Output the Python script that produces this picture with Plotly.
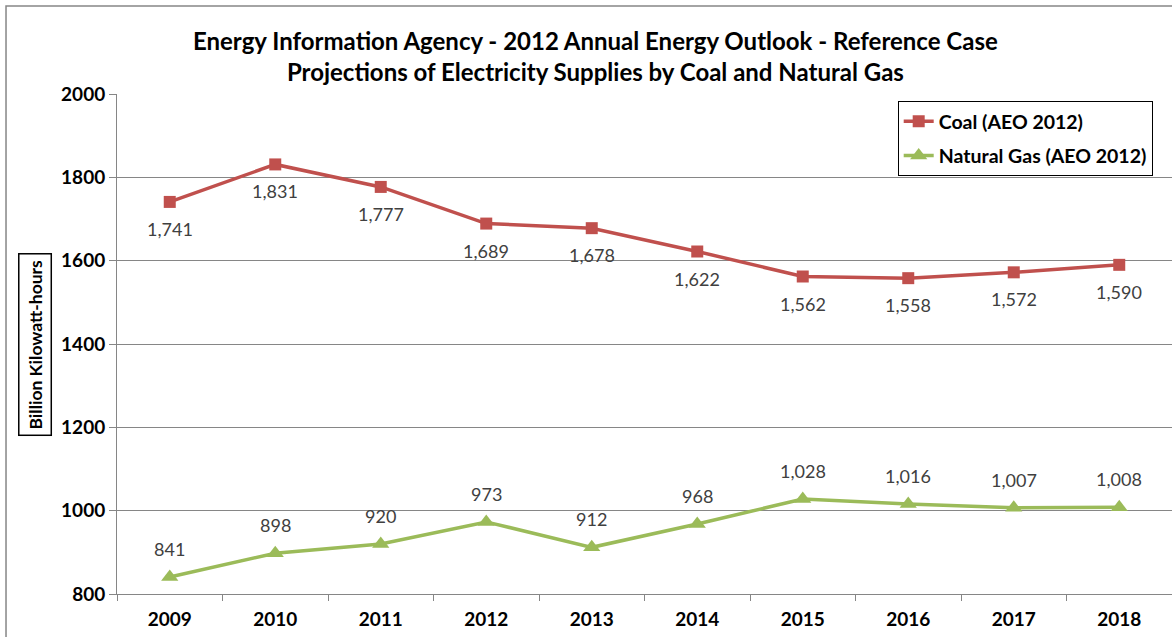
"""
EIA AEO 2012 - proyecciones de electricidad por carbón y gas natural
"""
import plotly.graph_objects as go

years = ['2009', '2010', '2011', '2012', '2013', '2014', '2015', '2016', '2017', '2018']
coal = [1741, 1831, 1777, 1689, 1678, 1622, 1562, 1558, 1572, 1590]
gas = [841, 898, 920, 973, 912, 968, 1028, 1016, 1007, 1008]

FONT = 'Lato'
COAL_COLOR = '#C0504D'
GAS_COLOR = '#9BBB59'

fig = go.Figure()

fig.add_trace(go.Scatter(
    x=years, y=coal, name='Coal (AEO 2012)', legendgroup='coal',
    mode='lines+markers',
    line=dict(color=COAL_COLOR, width=3.5),
    marker=dict(symbol='square', size=12, color=COAL_COLOR),
))
fig.add_trace(go.Scatter(
    x=years, y=gas, name='Natural Gas (AEO 2012)', legendgroup='gas',
    mode='lines+markers',
    line=dict(color=GAS_COLOR, width=3.5),
    marker=dict(symbol='triangle-up', size=15, color=GAS_COLOR),
))

# Etiquetas de datos (eje categórico: posición por índice)
for i, v in enumerate(coal):
    fig.add_annotation(x=i, y=v, text=f"{v:,}", showarrow=False, yshift=-27,
                       font=dict(family=FONT, size=18, color='#404040'))
for i, v in enumerate(gas):
    fig.add_annotation(x=i, y=v, text=f"{v:,}", showarrow=False, yshift=28,
                       font=dict(family=FONT, size=18, color='#404040'))

# Título del eje Y en caja
fig.add_annotation(
    xref='paper', yref='paper', x=-0.0777, y=0.498,
    xanchor='center', yanchor='middle',
    text='<b>Billion Kilowatt-hours</b>', textangle=-90, showarrow=False,
    font=dict(family=FONT, size=17.5, color='black'),
    bordercolor='black', borderwidth=1.5, borderpad=5,
)

# Borde exterior del gráfico
fig.add_shape(type='rect', xref='paper', yref='paper',
              x0=-0.1052, x1=1.02, y0=-0.3, y1=1.176,
              line=dict(color='#868686', width=1.5))

fig.update_layout(
    width=1172, height=637,
    margin=dict(l=117, r=0, t=94, b=43),
    paper_bgcolor='white', plot_bgcolor='white',
    font=dict(family=FONT, color='black'),
    title=dict(
        text='<b>Energy Information Agency - 2012 Annual Energy Outlook - Reference Case<br>'
             'Projections of Electricity Supplies by Coal and Natural Gas</b>',
        x=0.508, xanchor='center', xref='container',
        y=0.9215, yanchor='middle', yref='container',
        font=dict(family=FONT, size=24, color='black'),
    ),
    legend=dict(
        x=0.740, y=0.986, xanchor='left', yanchor='top',
        bordercolor='black', borderwidth=1, bgcolor='white',
        font=dict(family=FONT, size=19.5, color='black', weight='bold'),
        traceorder='grouped', tracegroupgap=6,
    ),
    xaxis=dict(
        type='category', range=[-0.5, 9.5],
        showgrid=False, showline=True, linecolor='#868686', linewidth=1,
        ticks='outside', tickson='boundaries', ticklen=6, tickcolor='#868686',
        ticklabelstandoff=8,
        tickfont=dict(family=FONT, size=19, color='black', weight='bold'),
    ),
    yaxis=dict(
        range=[800, 2000], dtick=200,
        showgrid=True, gridcolor='#868686', gridwidth=1,
        showline=True, linecolor='#868686', linewidth=1,
        ticks='outside', ticklen=7, tickcolor='#868686',
        tickfont=dict(family=FONT, size=19, color='black', weight='bold'),
        zeroline=False,
    ),
)

# quitar el margen por defecto del body para que el gráfico ocupe la ventana
fig.write_html("out.html", config={'displayModeBar': False},
               post_script="document.body.style.margin='0';")
